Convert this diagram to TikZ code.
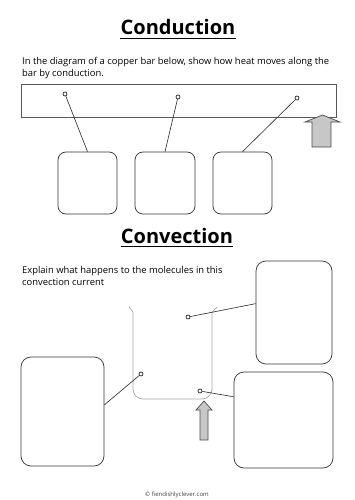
\documentclass[tikz,border=0pt]{standalone}
\usepackage{fontspec}
\setmainfont{Open Sans}
\usepackage{tikz}
\usetikzlibrary{positioning, calc}

\begin{document}
\begin{tikzpicture}[x=1pt, y=-1pt,
        heading/.style={font=\fontsize{20}{24}\selectfont\bfseries, inner sep=0pt, anchor=base},
        prompt/.style={font=\fontsize{9.4}{12.5}\selectfont, align=left, inner sep=0pt, anchor=north west},
        bar/.style={rectangle, draw=black!65, line width=0.9pt, minimum width=315pt, minimum height=33pt, inner sep=0pt},
        answerbox/.style={rectangle, draw=black!80, line width=0.7pt, rounded corners=8pt, inner sep=0pt},
        probe/.style={circle, draw=black, line width=0.6pt, fill=white, inner sep=0pt, minimum size=4pt},
        pointer/.style={draw=black!85, line width=0.6pt},
        current/.style={draw=black!35, line width=0.7pt},
        heat/.style={draw=black!70, fill=black!22, line width=0.7pt},
        credit/.style={font=\fontsize{6}{7}\selectfont, text=black!75, inner sep=0pt}
    ]
        \useasboundingbox (0,0) rectangle (354,500);

        % Conduction
        \node[heading] (cond) at (178, 35) {Conduction};
        \draw[line width=1.3pt] ([yshift=-3.5pt]cond.base west) -- ([yshift=-3.5pt]cond.base east);

        \node[prompt] (condtext) at (22, 57) {In the diagram of a copper bar below, show how heat moves along the\\bar by conduction.};

        \node[bar] (bar) at (178.5, 100.5) {};

        \node[answerbox, minimum width=59pt, minimum height=62pt] (cbox1) at (87.5, 183) {};
        \node[answerbox, minimum width=60pt, minimum height=62pt] (cbox2) at (165, 183) {};
        \node[answerbox, minimum width=59pt, minimum height=62pt] (cbox3) at (242.5, 183) {};

        \node[probe] (p1) at (65, 94) {};
        \node[probe] (p2) at (178, 97) {};
        \node[probe] (p3) at (297, 98) {};

        \draw[heat] (312,147) -- (312,122) -- (305,122) -- (322.5,115) -- (340,122) -- (331,122) -- (331,147) -- cycle;

        % Convection
        \node[heading] (conv) at (177, 243) {Convection};
        \draw[line width=1.3pt] ([yshift=-3.5pt]conv.base west) -- ([yshift=-3.5pt]conv.base east);

        \node[prompt] (convtext) at (22, 266) {Explain what happens to the molecules in this\\convection current};

        \draw[current] (129,307) -- (133,312);
        \draw[current, rounded corners=10pt] (133,312) -- (133,399) -- (212,399) -- (212,312);
        \draw[current] (212,312) -- (217,307);

        \node[answerbox, rounded corners=10pt, minimum width=76pt, minimum height=103pt] (tbox) at (294, 312.5) {};
        \node[answerbox, rounded corners=10pt, minimum width=83pt, minimum height=109pt] (lbox) at (62.5, 411.5) {};
        \node[answerbox, rounded corners=10pt, minimum width=99pt, minimum height=96pt] (rbox) at (283.5, 420) {};

        \node[probe] (q1) at (188, 317) {};
        \node[probe] (q2) at (141, 374) {};
        \node[probe] (q3) at (200, 391) {};

        \draw[heat] (200,440) -- (200,410) -- (196,410) -- (204,401) -- (212,410) -- (208,410) -- (208,440) -- cycle;

        \node[credit] (credit) at (177, 495) {© fiendishlyclever.com};

        % Connectors
        \draw[pointer] (p1) -- (cbox1.north);
        \draw[pointer] (p2) -- (cbox2.north);
        \draw[pointer] (p3) -- (cbox3.north);

        \draw[pointer] (q1) -- (tbox.167);
        \draw[pointer] (q2) -- (lbox.9);
        \draw[pointer] (q3) -- (rbox.155);

    \end{tikzpicture}
\end{document}
